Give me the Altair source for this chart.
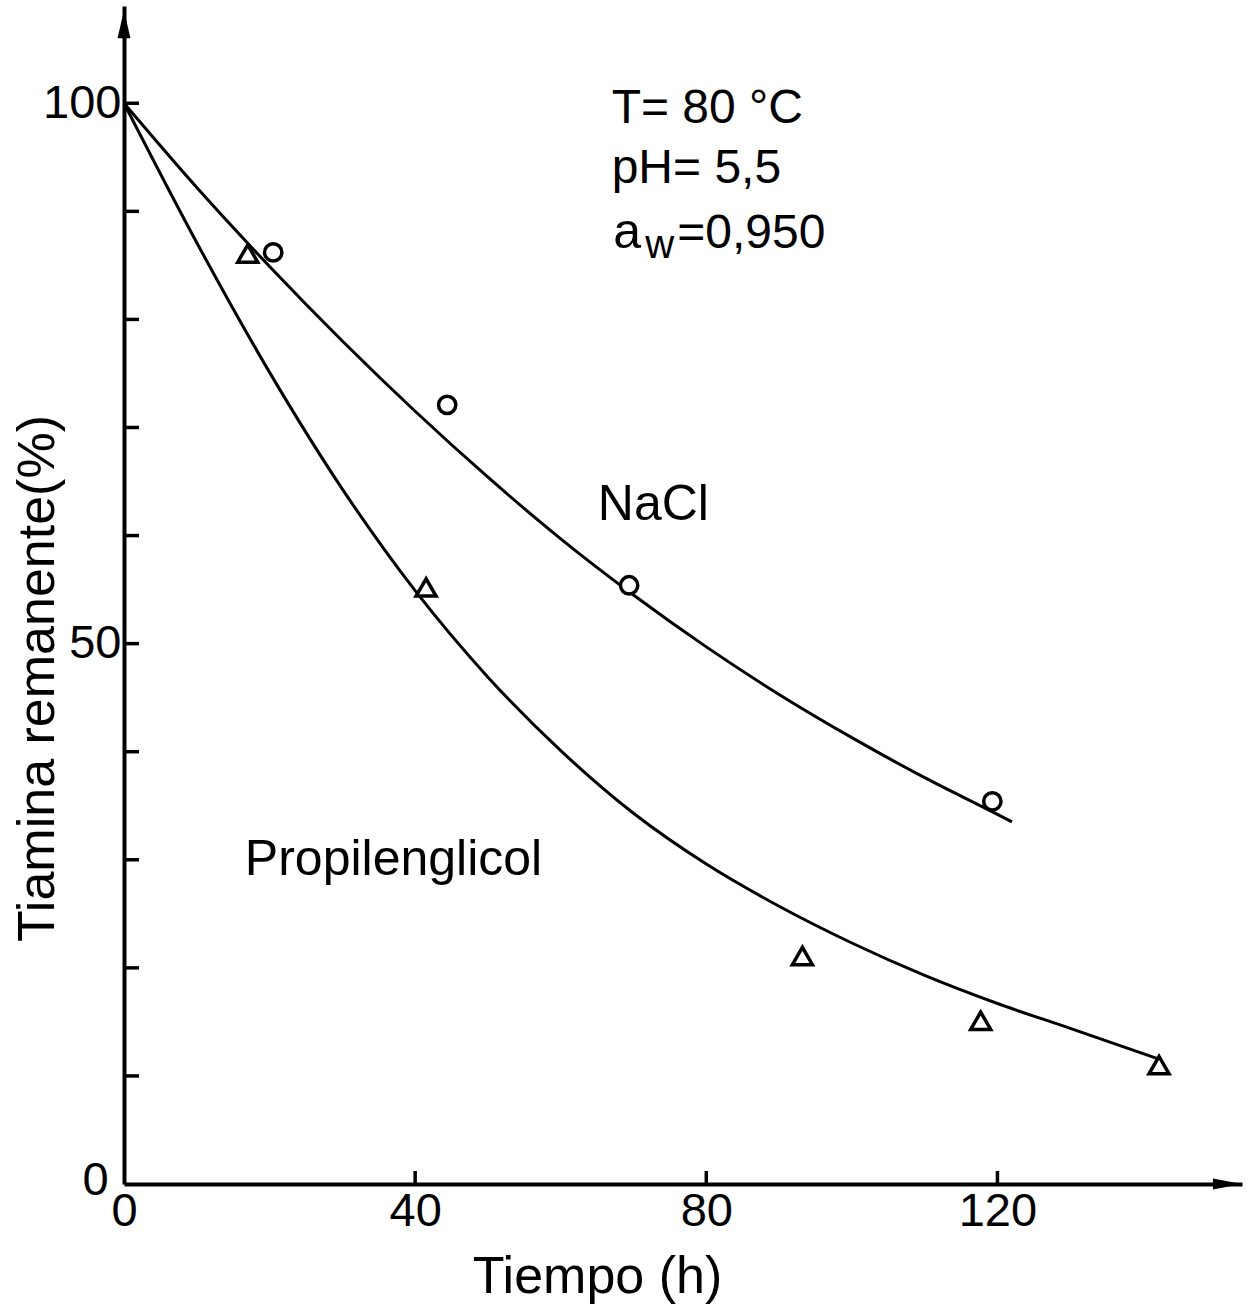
import altair as alt
import pandas as pd

# ---- data ----
nacl_curve_t = [0, 10, 20, 30, 40, 50, 60, 70, 80, 90, 100, 110, 120, 122]
nacl_curve_v = [100, 92.2, 84.9, 78.0, 71.5, 65.4, 59.7, 54.5, 49.7, 45.3, 41.3, 37.6, 34.2, 33.5]

pg_curve_t = [0, 10, 20, 30, 40, 50, 60, 70, 80, 90, 100, 110, 120, 130, 142]
pg_curve_v = [100, 87.1, 75.1, 64.3, 54.9, 46.9, 40.1, 34.3, 29.6, 25.7, 22.3, 19.3, 16.7, 14.4, 11.6]

nacl_pt_t = [20.5, 44.4, 69.4, 119.3]
nacl_pt_v = [86.2, 72.1, 55.4, 35.4]

pg_pt_t = [17.0, 41.5, 93.2, 117.7, 142.2]
pg_pt_v = [86.1, 55.2, 21.1, 15.1, 11.0]

y_tick_values = [10, 20, 30, 40, 50, 60, 70, 80, 90, 100]
x_tick_values = [40, 80, 120]
y_label_values = [50, 100]
x_label_values = [0, 40, 80, 120]

ann_text = ["T= 80 °C", "pH= 5,5", "a", "w", "=0,950", "NaCl", "Propilenglicol", "0"]
ann_t = [67.0, 67.0, 67.2, 71.6, 76.0, 65.1, 16.6, -2.1]
ann_v = [98.2, 92.6, 86.6, 85.7, 86.6, 61.4, 28.6, 0.3]
ann_fs = [48, 48, 50, 40, 48, 50, 50, 47]
ann_align = ["left", "left", "left", "left", "left", "left", "left", "right"]

FONT = "Liberation Sans"
X_MAX = 153.6
Y_MAX = 109

curves = pd.DataFrame({
    "t": nacl_curve_t + pg_curve_t,
    "v": nacl_curve_v + pg_curve_v,
    "s": ["NaCl"] * len(nacl_curve_t) + ["Propilenglicol"] * len(pg_curve_t),
})
circles = pd.DataFrame({"t": nacl_pt_t, "v": nacl_pt_v})
triangles = pd.DataFrame({"t": pg_pt_t, "v": pg_pt_v})
yticks = pd.DataFrame({"v": y_tick_values})
xticks = pd.DataFrame({"t": x_tick_values})
ann = pd.DataFrame({"label": ann_text, "t": ann_t, "v": ann_v, "fs": ann_fs, "al": ann_align})
yarrow = pd.DataFrame({"t": [0], "v": [107.3]})
xarrow = pd.DataFrame({"t": [151.6], "v": [0]})

xs = alt.Scale(domain=[0, X_MAX], nice=False, zero=False)
ys = alt.Scale(domain=[0, Y_MAX], nice=False, zero=False)

x_axis = alt.Axis(
    values=x_label_values, ticks=False, tickSize=0, grid=False,
    domainColor="black", domainWidth=4, labelFlush=False, labelOverlap=False,
    labelFont=FONT, labelFontSize=47, labelColor="black", labelPadding=4,
    title="Tiempo (h)", titleFont=FONT, titleFontSize=52, titleFontWeight="normal",
    titleColor="black", titleX=473, titleY=108, titleAlign="center",
    titleBaseline="alphabetic", titleAngle=0,
)
y_axis = alt.Axis(
    values=y_label_values, ticks=False, tickSize=0, grid=False,
    domainColor="black", domainWidth=4, labelFlush=False, labelOverlap=False,
    labelFont=FONT, labelFontSize=47, labelColor="black", labelPadding=3,
    title="Tiamina remanente(%)", titleFont=FONT, titleFontSize=52,
    titleFontWeight="normal", titleColor="black", titleX=-71, titleY=672,
    titleAlign="center", titleBaseline="alphabetic", titleAngle=270,
)

X = alt.X("t:Q", scale=xs, axis=x_axis)
Y = alt.Y("v:Q", scale=ys, axis=y_axis)

lines = alt.Chart(curves).mark_line(
    color="black", strokeWidth=3, interpolate="monotone"
).encode(x=X, y=Y, detail="s:N")

circ = alt.Chart(circles).mark_point(
    shape="circle", size=300, filled=False, stroke="black", strokeWidth=3.5,
    fill="white", fillOpacity=1, opacity=1
).encode(x=X, y=Y)

tri = alt.Chart(triangles).mark_point(
    shape="triangle-up", size=400, filled=False, stroke="black", strokeWidth=3.5,
    fill="white", fillOpacity=1, opacity=1
).encode(x=X, y=Y)

ytick_layer = alt.Chart(yticks).mark_rule(color="black", strokeWidth=3.5).encode(
    y=Y, x=alt.value(0), x2=alt.value(15)
)
xtick_layer = alt.Chart(xticks).mark_rule(color="black", strokeWidth=3.5).encode(
    x=X, y=alt.value(1178), y2=alt.value(1165)
)

yarrow_layer = alt.Chart(yarrow).mark_point(
    shape="M0,-1L0.46,1L-0.46,1Z", size=784, filled=True, color="black", opacity=1
).encode(x=X, y=Y)
xarrow_layer = alt.Chart(xarrow).mark_point(
    shape="M1,0L-1,-0.38L-1,0.38Z", size=841, filled=True, color="black", opacity=1
).encode(x=X, y=Y)

texts_left = alt.Chart(ann).transform_filter(alt.datum.al == "left").mark_text(
    align="left", baseline="alphabetic", font=FONT, color="black"
).encode(x=X, y=Y, text="label:N", size=alt.Size("fs:Q", scale=None, legend=None))

texts_right = alt.Chart(ann).transform_filter(alt.datum.al == "right").mark_text(
    align="right", baseline="middle", font=FONT, color="black"
).encode(x=X, y=Y, text="label:N", size=alt.Size("fs:Q", scale=None, legend=None))

chart = alt.layer(
    lines, circ, tri, ytick_layer, xtick_layer, yarrow_layer, xarrow_layer,
    texts_left, texts_right
).properties(
    width=1118, height=1178,
    padding={"left": 124, "top": 6, "right": 7, "bottom": 125},
    autosize=alt.AutoSizeParams(type="none"),
    background="white",
).configure_view(stroke=None)

chart.save("out.html", embed_options={"renderer": "svg", "actions": False})
